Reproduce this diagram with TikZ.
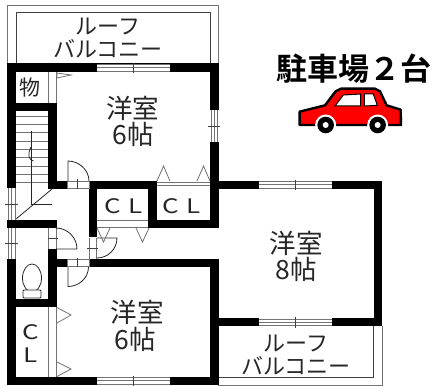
\documentclass[tikz,border=0pt]{standalone}
\usepackage{graphicx}
\usepackage{fontspec}
\setmainfont{Noto Sans CJK JP}
\newfontfamily\boldjp[BoldFont={Noto Sans CJK JP Bold}]{Noto Sans CJK JP}
\tikzset{
  wall/.style={fill=black,draw=none},
  thin line/.style={draw=black!55,line width=0.8pt},
  fine/.style={draw=black!75,line width=0.7pt},
  ink/.style={draw=black!85,line width=0.8pt},
  lbl/.style={inner sep=0pt,text=black!85},
  room/.style={lbl,font=\fontsize{26.5}{26.5}\selectfont},
  bal/.style={lbl,font=\fontsize{22}{22}\selectfont},
  cl/.style={lbl,font=\fontsize{20}{20}\selectfont},
}
\newcommand{\wideletter}[1]{\scalebox{1.3}[1]{#1}}
\newcommand{\hwin}[3]{% x1,x2,ytop
  \fill[white] (#1,#3) rectangle (#2,#3+8.5);
  \draw[thin line] (#1,#3+1) -- (#2,#3+1) (#1,#3+4.2) -- (#2,#3+4.2) (#1,#3+7.5) -- (#2,#3+7.5);
  \draw[fine] ({(#1+#2)/2},#3-1) -- ({(#1+#2)/2},#3+9.5);
}
\begin{document}
\begin{tikzpicture}[x=1pt,y=-1pt]
\useasboundingbox (0,0) rectangle (432,386);
\fill[white] (0,0) rectangle (432,386);
% balconies
\draw[thin line] (7,63) -- (7,5) -- (218,5) -- (218,63);
\draw[fine] (16,63) -- (16,12.5) -- (210.5,12.5) -- (210.5,63);
\draw[thin line] (382,326) -- (382,385) -- (218,385);
\draw[fine] (373.5,326) -- (373.5,377) -- (218,377);
% walls
\fill[wall] (7,63) rectangle (218,72);
\fill[wall] (7,63) rectangle (16,188);
\fill[wall] (7,103) rectangle (56.5,111);
\fill[wall] (48,103) rectangle (56.5,189);
\fill[wall] (48,181) rectangle (67,189);
\fill[wall] (89,181) rectangle (157,189);
\fill[wall] (89,181) rectangle (97,237);
\fill[wall] (148,181) rectangle (157,228);
\fill[wall] (148,220) rectangle (218,228);
\fill[wall] (210,63) rectangle (218.5,228);
\fill[wall] (210,181) rectangle (382,188.5);
\fill[wall] (373.5,181) rectangle (382,326);
\fill[wall] (7,220) rectangle (56.5,228);
\fill[wall] (48,249) rectangle (56.5,307);
\fill[wall] (48,259) rectangle (67,267);
\fill[wall] (89,259) rectangle (218.5,267);
\fill[wall] (210,259) rectangle (218.5,385);
\fill[wall] (7,259) rectangle (16,385);
\fill[wall] (7,298.5) rectangle (56.5,307);
\fill[wall] (7,377) rectangle (218.5,385);
\fill[wall] (210,318) rectangle (382,326);
% windows
\hwin{97}{170}{63.5}
\hwin{97}{170}{376.5}
\hwin{259}{332}{180.5}
\hwin{259}{332}{318}
\fill[white] (210,110) rectangle (218.5,142);
\draw[thin line] (211.5,110) -- (211.5,142) (214,110) -- (214,142) (217,110) -- (217,142);
\draw[fine] (208,126) -- (220,126);
% left windows (stairs and toilet)
\draw[thin line] (8,188) -- (8,220) (11.5,188) -- (11.5,220) (15,188) -- (15,220);
\draw[thin line] (8,228) -- (8,259) (11.5,228) -- (11.5,259) (15,228) -- (15,259);
\draw[fine] (5,204) -- (18,204) (5,243.5) -- (18,243.5);
% closet bands
\draw[thin line] (48,72) -- (48,103) (56,72) -- (56,103);
\draw[thin line] (48,307) -- (48,377) (56,307) -- (56,377);
\draw[thin line] (157,182) -- (210,182) (157,185) -- (210,185);
\fill[white] (97,220) rectangle (148,228);
\draw[thin line] (97,220.5) -- (148,220.5) (97,227.5) -- (148,227.5);
% stairs
\foreach \yy in {116,124,132,141,149,157,166,174,182}
  \draw[thin line] (16,\yy) -- (48,\yy);
\draw[ink] (31,131) -- (31,204) -- (52,204);
\draw[ink] (31,147) .. controls (27,155) and (29,160) .. (33.5,161);
\draw[ink] (52,189) -- (16,219);
% doors
\fill[white] (67,181) rectangle (89,189);
\draw[thin line] (67,181.5) rectangle (89,188.5);
\draw[fine] (77,179) -- (77,188.5);
\draw[ink] (68,181) -- (68,161) .. controls (79,161) and (89,170) .. (89,181);
\fill[white] (48,228) rectangle (56.5,249);
\draw[thin line] (48.5,228) -- (48.5,249) (56,228) -- (56,249);
\draw[fine] (48,238.5) -- (58,238.5);
\draw[ink] (56,228) .. controls (67.5,228) and (77,237.5) .. (77,249) -- (56,249);
\fill[white] (89,238) rectangle (97,259);
\draw[thin line] (89.5,238) -- (89.5,259) (96.5,238) -- (96.5,259);
\draw[fine] (87,248.5) -- (98,248.5);
\draw[ink] (97,238) -- (117,238) .. controls (117,249) and (108,258) .. (97,258);
\fill[white] (67,259) rectangle (89,267);
\draw[thin line] (67,259.5) rectangle (89,266.5);
\draw[fine] (77,258) -- (77,267);
\draw[ink] (68,267) -- (68,286.5) .. controls (79,286.5) and (88.5,278) .. (88.5,267);
% closet door marks
\draw[thin line,fill=white] (57,73) -- (71,75) -- (57,78) -- cycle;
\draw[thin line] (57,307.5) -- (71,315) -- (57,323);
\draw[thin line] (57,362) -- (71,369) -- (57,376.5);
\draw[thin line] (157,181) -- (163.5,166) -- (170,181);
\draw[thin line] (197,181) -- (203.5,166) -- (210,181);
\draw[thin line] (97,228) -- (103.5,242) -- (110,228);
\draw[thin line] (136,228) -- (142.5,242) -- (149,228);
% toilet
\draw[ink] (32,278) ellipse[x radius=9.5,y radius=14];
\draw[ink,fill=white,rounded corners=1pt] (23,290) rectangle (41,298);
% labels
\node[bal] (b1a) at (108,26.5) {ルーフ};
\node[bal] (b1b) at (108,48.5) {バルコニー};
\node[bal] (b2a) at (296,344) {ルーフ};
\node[bal] (b2b) at (296,366) {バルコニー};
\node[lbl,font=\fontsize{21}{21}\selectfont] (mono) at (30,87.5) {物};
\node[room] (r1a) at (133,108) {洋室};
\node[room] (r1b) at (133,134) {6帖};
\node[room] (r2a) at (137,312) {洋室};
\node[room] (r2b) at (135,339) {6帖};
\node[room] (r3a) at (296,243) {洋室};
\node[room] (r3b) at (296,269) {8帖};
\node[cl] (c1) at (113,206) {\wideletter{C}};
\node[cl] (l1) at (136,206) {\wideletter{L}};
\node[cl] (c2) at (171,206) {\wideletter{C}};
\node[cl] (l2) at (194,206) {\wideletter{L}};
\node[cl] (c3) at (31,332) {\wideletter{C}};
\node[cl] (l3) at (31,355) {\wideletter{L}};
\node[inner sep=0pt,text=black,font=\boldjp\bfseries\fontsize{31}{31}\selectfont] (park) at (354,68.5) {駐車場２台};
% car
\begin{scope}[shift={(215,30)},x=0.3333pt,y=-0.3333pt]
\draw[fill=red,draw=black,line width=2.4pt,line join=round]
  (254,245) -- (330,226) -- (362,184) -- (378,176) -- (480,176) -- (495,184) -- (515,226) -- (557,239) -- (558,285) -- (254,285) -- cycle;
\draw[fill=white,draw=black,line width=1pt] (360,228) -- (385,195) -- (437,192) -- (437,228) -- cycle;
\draw[fill=white,draw=black,line width=1pt] (448,192) -- (475,192) -- (487,226) -- (448,228) -- cycle;
\foreach \cx in {332,488} {
  \fill[white] (\cx,285) circle[radius=10.5pt];
  \fill[black] (\cx,285) circle[radius=8.3pt];
  \fill[white] (\cx,285) circle[radius=3pt];
}
\end{scope}
\end{tikzpicture}
\end{document}
